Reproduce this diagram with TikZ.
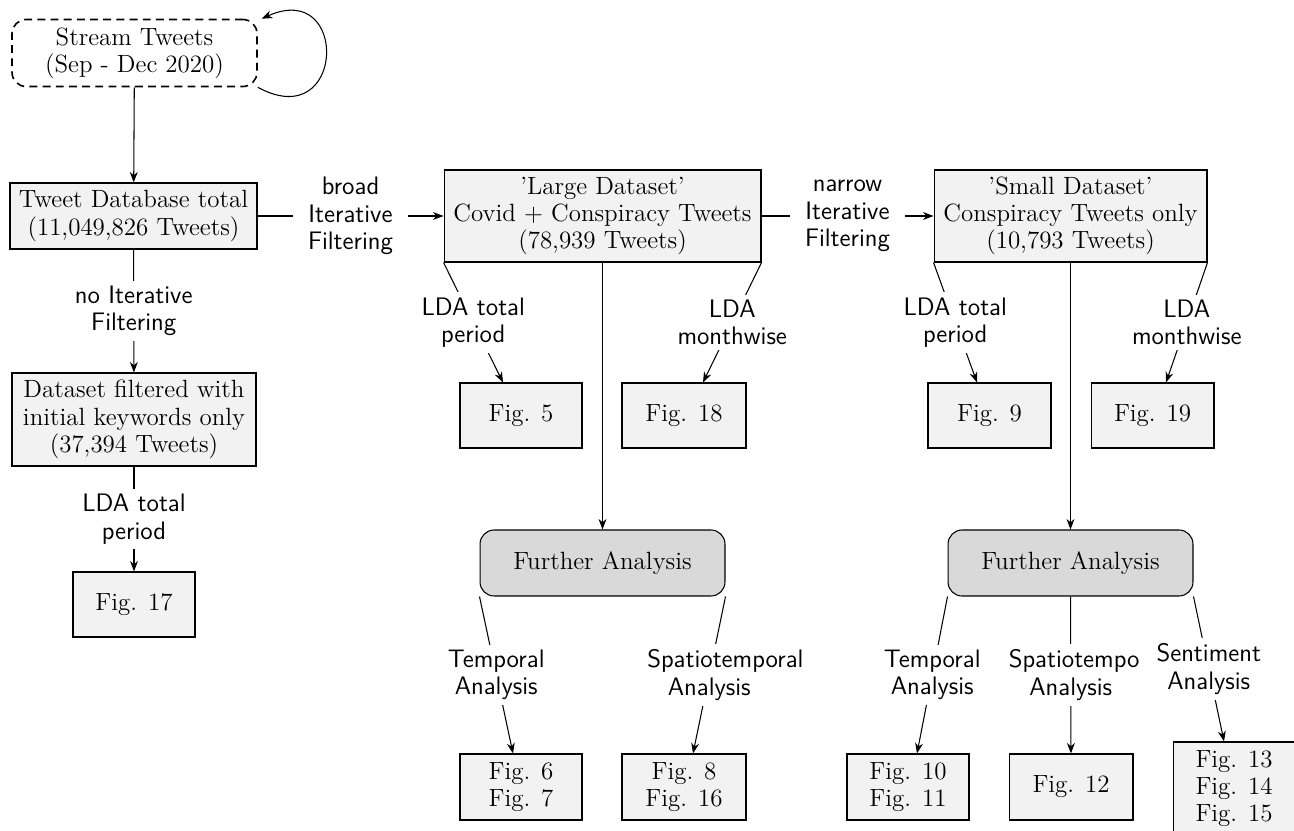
\documentclass[tikz,border=0pt]{standalone}
\usepackage{amsmath}
\usepackage{tikz}
\usetikzlibrary{arrows.meta}

\begin{document}
\begin{tikzpicture}[x=0.02cm, y=-0.02cm, line width=0.6pt,
	>={Stealth[length=6pt,width=4.5pt]},
	box/.style={draw, fill=gray!10, align=center, inner sep=0pt,
		font=\fontsize{14.2}{15.5}\selectfont},
	figbox/.style={box, minimum width=2.44cm, minimum height=1.3cm},
	further/.style={box, fill=gray!30, rounded corners=8pt, minimum width=4.9cm, minimum height=1.32cm},
	lbl/.style={fill=white, align=center, text width=2.48cm, inner sep=3pt,
		font=\fontsize{14.4}{15.6}\selectfont\sffamily},
	hlbl/.style={fill=white, align=center, minimum width=2.3cm, inner sep=3pt,
		font=\fontsize{14.4}{15.6}\selectfont\sffamily}]
	\useasboundingbox (0,0) rectangle (1294,831);

	\node (stream) at (134.5,53) [box, fill=none, dashed, dash pattern=on 4.5pt off 3pt, line width=0.9pt,
		rounded corners=8pt, minimum width=4.9cm, minimum height=1.34cm] {Stream Tweets\\(Sep - Dec 2020)};
	\node (tdb) at (133.5,216) [box, minimum width=4.94cm, minimum height=1.32cm] {Tweet Database total\\(11,049,826 Tweets)};
	\node (large) at (602.5,216) [box, minimum width=6.34cm, minimum height=1.84cm] {'Large Dataset'\\Covid + Conspiracy Tweets\\(78,939 Tweets)};
	\node (small) at (1070.5,216) [box, minimum width=5.46cm, minimum height=1.84cm] {'Small Dataset'\\Conspiracy Tweets only\\(10,793 Tweets)};
	\node (filtered) at (134,419.5) [box, minimum width=4.88cm, minimum height=1.86cm] {Dataset filtered with\\initial keywords only\\(37,394 Tweets)};

	% figures of the LDA runs
	\node (fig17) at (134,604.5) [figbox] {Fig. 17};
	\node (fig5) at (521,415.5) [figbox] {Fig. 5};
	\node (fig18) at (684,415.5) [figbox, minimum width=2.48cm] {Fig. 18};
	\node (fig9) at (989.5,415.5) [figbox, minimum width=2.46cm] {Fig. 9};
	\node (fig19) at (1152.5,415.5) [figbox, minimum width=2.46cm] {Fig. 19};

	\node (fa1) at (602.5,563) [further] {Further Analysis};
	\node (fa2) at (1070.5,563) [further] {Further Analysis};

	\node (fig67) at (521,787) [figbox, minimum height=1.32cm] {Fig. 6\\Fig. 7};
	\node (fig816) at (684,787) [figbox, minimum width=2.48cm, minimum height=1.32cm] {Fig. 8\\Fig. 16};
	\node (fig1011) at (908,787) [figbox, minimum height=1.32cm] {Fig. 10\\Fig. 11};
	\node (fig12) at (1071,787) [figbox, minimum width=2.48cm, minimum height=1.32cm] {Fig. 12};
	\node (fig1315) at (1234,788.5) [figbox, minimum height=1.86cm] {Fig. 13\\Fig. 14\\Fig. 15};

	% streaming loop
	\draw[->] (stream.south east) .. controls +(88,48) and +(88,-40) .. ([xshift=0.08cm]stream.north east);
	\draw[->] (stream) -- (tdb);

	\draw[->] (tdb) -- node[hlbl] {broad\\Iterative\\Filtering} (large);
	\draw[->] (large) -- node[hlbl] {narrow\\Iterative\\Filtering} (small);
	\draw[->] (tdb) -- node[lbl] {no Iterative\\Filtering} (filtered);
	\draw[->] (filtered) -- node[lbl] {LDA total\\period} (fig17);

	\draw[->] (large.south west) -- node[lbl] {LDA total\\period} ([xshift=-0.36cm]fig5.north);
	\draw[->] (large.south east) -- node[lbl] {LDA\\monthwise} ([xshift=0.38cm]fig18.north);
	\draw[->] (large) -- (fa1);
	\draw[->] (small.south west) -- node[lbl] {LDA total\\period} ([xshift=-0.25cm]fig9.north);
	\draw[->] (small.south east) -- node[lbl] {LDA\\monthwise} ([xshift=0.27cm]fig19.north);
	\draw[->] (small) -- (fa2);

	\draw[->] (fa1.south west) -- node[lbl] {Temporal\\Analysis} ([xshift=-0.16cm]fig67.north);
	\draw[->] (fa1.south east) -- node[lbl] {Spatiotemporal\\Analysis} ([xshift=0.18cm]fig816.north);
	\draw[->] (fa2.south west) -- node[lbl] {Temporal\\Analysis} ([xshift=0.18cm]fig1011.north);
	\draw[->] (fa2) -- node[lbl] {Spatiotempo\\Analysis} (fig12);
	\draw[->] (fa2.south east) -- node[lbl] {Sentiment\\Analysis} ([xshift=-0.2cm]fig1315.north);
\end{tikzpicture}
\end{document}
